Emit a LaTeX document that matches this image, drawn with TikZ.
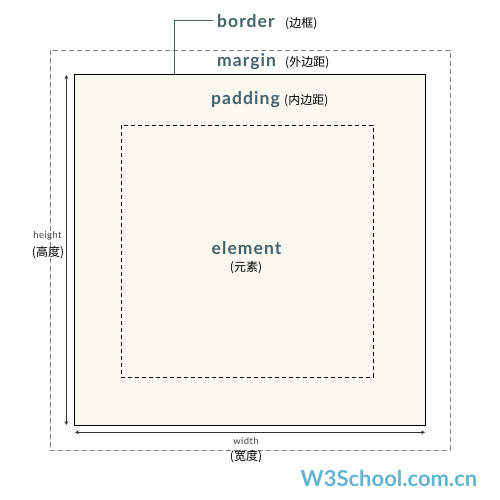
\documentclass[tikz,border=0pt]{standalone}
\usepackage{fontspec}
\setmainfont{Lato}
\newfontfamily\cjk{Noto Sans CJK SC}
\newcommand{\CNfont}{\cjk\mdseries\fontsize{12}{13}\selectfont\color{black}}
\usepackage{tikz}
\usetikzlibrary{arrows.meta}
\usetikzlibrary{positioning}
\definecolor{slate}{HTML}{46626A}
\definecolor{cream}{HTML}{F9F9F1}
\definecolor{w3blue}{HTML}{62B4D1}

\begin{document}
\begin{tikzpicture}[
		x=1pt, y=-1pt,
		BX/.style = {rectangle, inner sep=0pt, outer sep=0pt},% boxes of the model
		L/.style = {inner sep=0pt, text=slate, font=\fontsize{17.5}{18}\selectfont\bfseries\addfontfeature{LetterSpace=6}},
		S/.style = {inner sep=0pt, text=black!75, font=\fontsize{9.5}{10}\selectfont\addfontfeature{LetterSpace=4}},
		CN/.style = {font=\CNfont, text=black},
		A/.style = {draw=black!80, line width=0.9pt, {Stealth[length=4pt,width=4pt]}-{Stealth[length=4pt,width=4pt]}},
		]
		\useasboundingbox (0,0) rectangle (500,500);
		% margin, border, padding
		\node[BX, draw=black!50, line width=0.9pt, dash pattern=on 5pt off 3pt,
			minimum width=400, minimum height=400] (mg) at (250,250) {};
		\node[BX, draw=black, fill=cream, line width=1.3pt,
			minimum width=351, minimum height=351] (bd) at (249.7,249.7) {};
		\node[BX, draw=black, line width=0.9pt, dash pattern=on 4pt off 3pt,
			minimum width=252, minimum height=252] (pd) at (247.3,251.3) {};
		% labels
		\node[L, anchor=base west] (lbd) at (217,27.3) {border};
		\node[CN, anchor=base west, inner sep=0pt] (cbd) at (285,27.3) {(边框)};
		\node[L, anchor=base west] (lmg) at (217,66.7) {margin};
		\node[CN, anchor=base west, inner sep=0pt] (cmg) at (285,66.7) {(外边距)};
		\node[L, anchor=base west] (lpd) at (211,105) {padding};
		\node[CN, anchor=base west, inner sep=0pt] (cpd) at (284,105) {(内边距)};
		\node[L, anchor=base] (lel) at (246.5,254.5) {element};
		\node[CN, inner sep=0pt] (cel) at (246,268) {(元素)};
		\node[S] (lht) at (47.5,236) {height};
		\node[CN, inner sep=0pt] (cht) at (48,253) {(高度)};
		\node[S] (lwd) at (246,441) {width};
		\node[CN, inner sep=0pt] (cwd) at (246,457) {(宽度)};
		\node[inner sep=0pt, text=w3blue, font=\fontsize{22}{22}\selectfont\bfseries] (w3) at (389,478) {W3School.com.cn};
		% leader of border label
		\coordinate (bt) at (174.3,74);
		\draw[slate, line width=1.2pt] (bt) |- ([xshift=-4pt]lbd.west);
		% dimension arrows
		\coordinate (h1) at (66.3,75);
		\coordinate (h2) at (66.3,425);
		\coordinate (w1) at (75,432.3);
		\coordinate (w2) at (425,432.3);
		\draw[A] (h1) -- (h2);
		\draw[A] (w1) -- (w2);
	\end{tikzpicture}
\end{document}
